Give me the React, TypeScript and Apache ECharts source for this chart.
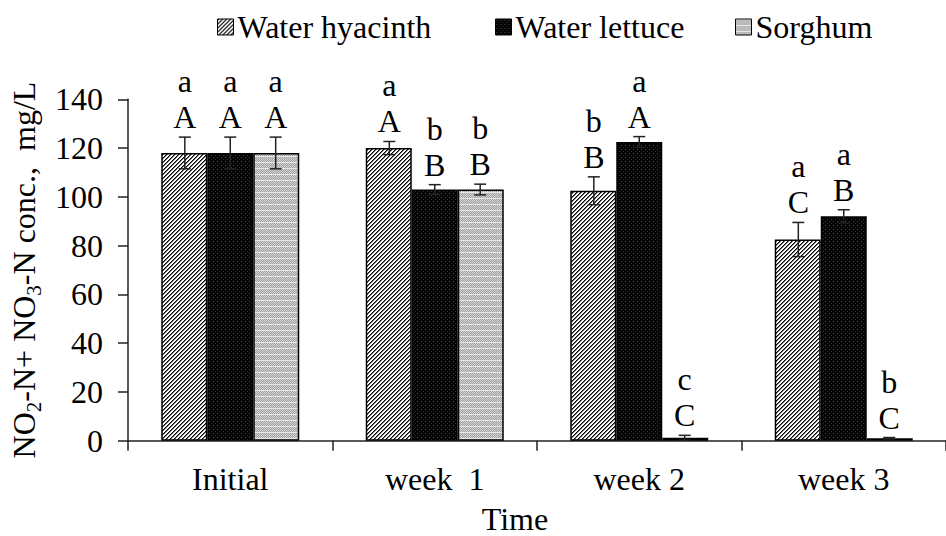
import React, { useEffect, useRef } from "react";
import * as echarts from "echarts";

const categories = ["Initial", "week  1", "week 2", "week 3"];
const seriesNames = ["Water hyacinth", "Water lettuce", "Sorghum"];
const hyacinth = [118, 120, 102.5, 82.5];
const hyacinthErr = [6.5, 2.7, 5.7, 7];
const lettuce = [118, 103, 122.5, 92];
const lettuceErr = [6.5, 2, 2.2, 2.7];
const sorghum = [118, 103, 1.2, 1.0];
const sorghumErr = [6.5, 2.2, 1.0, 0.3];
const lowerLetters = [
  ["a", "a", "b", "a"],
  ["a", "b", "a", "a"],
  ["a", "b", "c", "b"],
];
const upperLetters = [
  ["A", "A", "B", "C"],
  ["A", "B", "A", "B"],
  ["A", "B", "C", "C"],
];
const yTicks = { min: 0, max: 140, interval: 20 };

const FONT = "Liberation Serif, Times New Roman, serif";
const FS = 32;
const legendLefts = [217, 495, 735];

function makeTile(w: number, h: number, fn: (x: number, y: number) => number) {
  const c = document.createElement("canvas");
  c.width = w;
  c.height = h;
  const ctx = c.getContext("2d")!;
  const img = ctx.createImageData(w, h);
  for (let y = 0; y < h; y++) {
    for (let x = 0; x < w; x++) {
      const v = fn(x, y);
      const i = (y * w + x) * 4;
      img.data[i] = v;
      img.data[i + 1] = v;
      img.data[i + 2] = v;
      img.data[i + 3] = 255;
    }
  }
  ctx.putImageData(img, 0, 0);
  return { image: c.toDataURL(), repeat: "repeat", imageWidth: w, imageHeight: h } as any;
}

export default function App() {
  const ref = useRef<HTMLDivElement>(null);
  useEffect(() => {
    if (!ref.current) return;
    const chart = echarts.init(ref.current, null, { renderer: "svg" });

    const patHy = makeTile(4, 4, (x, y) => {
      const m = (x + y) % 4;
      return m === 0 ? 0 : m === 1 ? 110 : 255;
    });
    const patLe = makeTile(4, 4, (x, y) => {
      if (x === 1 && y === 1) return 70;
      if (x === 3 && y === 3) return 45;
      return 5;
    });
    const patSo = makeTile(8, 6, (x, y) => {
      if (y === 0) return 230;
      return (x + y) % 2 ? 160 : 212;
    });
    const pats = [patHy, patLe, patSo];
    const values = [hyacinth, lettuce, sorghum];
    const errs = [hyacinthErr, lettuceErr, sorghumErr];

    const barSeries = seriesNames.map((name, si) => ({
      name,
      type: "bar",
      data: values[si],
      barWidth: 46,
      barGap: "0%",
      itemStyle: { color: pats[si], borderColor: "#000", borderWidth: 1.5 },
      z: 2,
    }));

    const txt = (text: string, x: number, y: number) => ({
      type: "text",
      x,
      y,
      style: {
        text,
        fill: "#000",
        fontSize: FS,
        fontFamily: FONT,
        align: "center",
        verticalAlign: "middle",
      },
    });

    const errSeries = seriesNames.map((name, si) => ({
      name: "err-" + si,
      type: "custom",
      clip: false,
      z: 5,
      data: values[si].map((v, i) => [i, v, errs[si][i]]),
      renderItem: (params: any, api: any) => {
        const ci = api.value(0);
        const v = api.value(1);
        const e = api.value(2);
        const band = api.size([1, 0])[0];
        const barW = band / 4.5;
        const c = api.coord([ci, v]);
        const x = c[0] + (si - 1) * barW;
        const yTop = api.coord([ci, v + e])[1];
        const yBot = api.coord([ci, Math.max(v - e, 0)])[1];
        const cap = 6;
        const ls = { stroke: "#222", lineWidth: 1.5 };
        const upY = yTop - 20;
        const loY = upY - 36;
        const idx = params.dataIndex;
        return {
          type: "group",
          children: [
            { type: "line", shape: { x1: x, y1: yTop, x2: x, y2: yBot }, style: ls },
            { type: "line", shape: { x1: x - cap, y1: yTop, x2: x + cap, y2: yTop }, style: ls },
            { type: "line", shape: { x1: x - cap, y1: yBot, x2: x + cap, y2: yBot }, style: ls },
            txt(upperLetters[si][idx], x, upY),
            txt(lowerLetters[si][idx], x, loY),
          ],
        };
      },
    }));

    const legends = seriesNames.map((name, i) => ({
      data: [name],
      left: legendLefts[i],
      top: 11,
      padding: 0,
      itemWidth: 16,
      itemHeight: 16,
      icon: "rect",
      itemStyle: { borderColor: "#000", borderWidth: 1 },
      textStyle: { fontSize: FS, fontFamily: FONT, color: "#000", padding: [0, 0, 0, -1] },
    }));

    chart.setOption({
      animation: false,
      backgroundColor: "#fff",
      textStyle: { fontFamily: FONT },
      grid: { left: 125, top: 99.3, width: 828, height: 341.4, containLabel: false },
      legend: legends,
      xAxis: {
        type: "category",
        data: categories,
        axisLine: { lineStyle: { color: "#222", width: 1.5 } },
        axisTick: { show: true, length: 10, lineStyle: { color: "#222", width: 1.5 } },
        axisLabel: { fontSize: FS, fontFamily: FONT, color: "#000", margin: 22 },
        splitLine: { show: false },
      },
      yAxis: {
        type: "value",
        min: yTicks.min,
        max: yTicks.max,
        interval: yTicks.interval,
        name: "{n|NO}{s|2}{n|-N+ NO}{s|3}{n|-N conc.,  mg/L}",
        nameLocation: "middle",
        nameGap: 84,
        nameTextStyle: {
          fontFamily: FONT,
          rich: {
            n: { fontSize: FS, fontFamily: FONT, color: "#000", lineHeight: 40 },
            s: { fontSize: 21, fontFamily: FONT, color: "#000", lineHeight: 22, verticalAlign: "bottom" },
          },
        },
        axisLine: { show: true, lineStyle: { color: "#222", width: 1.5 } },
        axisTick: { show: true, length: 10, lineStyle: { color: "#222", width: 1.5 } },
        axisLabel: { fontSize: FS, fontFamily: FONT, color: "#000", margin: 25 },
        splitLine: { show: false },
      },
      graphic: [
        {
          type: "text",
          x: 515,
          y: 519,
          style: {
            text: "Time",
            fill: "#000",
            fontSize: FS,
            fontFamily: FONT,
            align: "center",
            verticalAlign: "middle",
            textAlign: "center",
            textVerticalAlign: "middle",
          },
        },
      ],
      series: [...barSeries, ...errSeries],
    } as any);

    return () => chart.dispose();
  }, []);

  return (
    <div
      ref={ref}
      style={{ position: "fixed", left: 0, top: 0, width: 946, height: 536, background: "#fff" }}
    />
  );
}
